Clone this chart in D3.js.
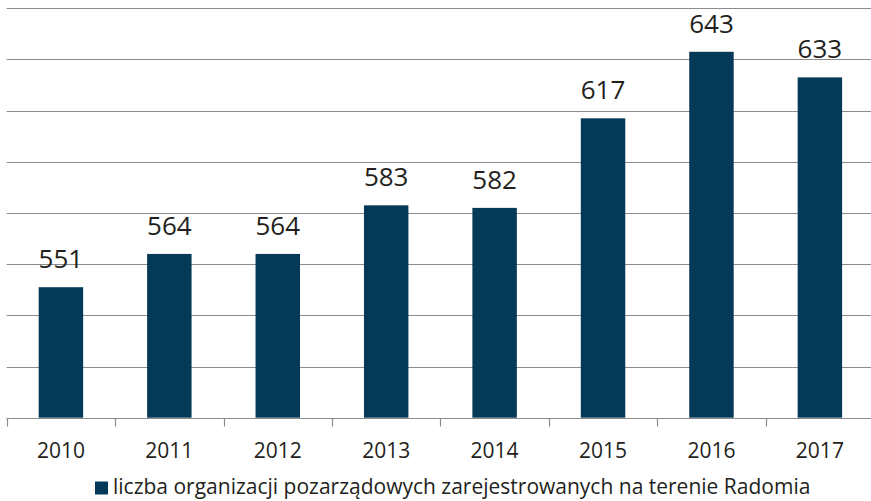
<!DOCTYPE html>
<html>
<head>
<meta charset="utf-8">
<script src="https://cdn.jsdelivr.net/npm/d3@7"></script>
<style>
  body { margin: 0; background: #fff; }
  text { font-family: "Open Sans", sans-serif; fill: #231f20; }
</style>
</head>
<body>
<div id="chart"></div>
<script>
// data
var years = ["2010", "2011", "2012", "2013", "2014", "2015", "2016", "2017"];
var counts = [551, 564, 564, 583, 582, 617, 643, 633];
var gridValues = [500, 520, 540, 560, 580, 600, 620, 640, 660];
var legendLabel = "liczba organizacji pozarządowych zarejestrowanych na terenie Radomia";

var svgWidth = 871;
var svgHeight = 501;

var svg = d3.select("#chart")
  .append("svg")
  .attr("width", svgWidth)
  .attr("height", svgHeight);

// scales
var x = d3.scaleBand()
  .domain(years)
  .range([6.7, 874.1])
  .paddingInner(0.59)
  .paddingOuter(0.295);

var xTicks = d3.scaleBand()
  .domain(years)
  .range([6.7, 874.1]);

var y = d3.scaleLinear()
  .domain([500, 660])
  .range([417.7, 8.3]);

// gridlines
svg.append("g")
  .selectAll("line")
  .data(gridValues)
  .enter()
  .append("line")
  .attr("x1", 6.7)
  .attr("x2", svgWidth)
  .attr("y1", d => Math.round(y(d)) + 0.5)
  .attr("y2", d => Math.round(y(d)) + 0.5)
  .attr("stroke", "#8c8c8c")
  .attr("stroke-width", 1.2);

// bars
svg.append("g")
  .selectAll("rect")
  .data(counts)
  .enter()
  .append("rect")
  .attr("x", (d, i) => x(years[i]))
  .attr("width", x.bandwidth())
  .attr("y", d => y(d))
  .attr("height", d => y(500) - y(d))
  .attr("fill", "#043a57");

// value labels
svg.append("g")
  .selectAll("text")
  .data(counts)
  .enter()
  .append("text")
  .attr("x", (d, i) => x(years[i]) + x.bandwidth() / 2)
  .attr("y", d => y(d) - 19)
  .attr("text-anchor", "middle")
  .style("font-size", "26px")
  .text(d => d);

// x axis
var axisG = svg.append("g")
  .attr("transform", `translate(0, ${Math.round(y(500)) + 0.5})`);

axisG.append("line")
  .attr("x1", 6.7)
  .attr("x2", svgWidth)
  .attr("stroke", "#8c8c8c")
  .attr("stroke-width", 1.2);

var tickPos = years.map(d => xTicks(d)).concat([xTicks.range()[1]]);
axisG.selectAll("line.tick")
  .data(tickPos)
  .enter()
  .append("line")
  .attr("class", "tick")
  .attr("x1", d => Math.round(d) + 0.5)
  .attr("x2", d => Math.round(d) + 0.5)
  .attr("y1", 0)
  .attr("y2", 8)
  .attr("stroke", "#8c8c8c")
  .attr("stroke-width", 1.2);

axisG.selectAll("text")
  .data(years)
  .enter()
  .append("text")
  .attr("x", d => xTicks(d) + xTicks.bandwidth() / 2)
  .attr("y", 39.5)
  .attr("text-anchor", "middle")
  .style("font-size", "21px")
  .text(d => d);

// legend
var legend = svg.append("g");
legend.append("rect")
  .attr("x", 95)
  .attr("y", 481.5)
  .attr("width", 13)
  .attr("height", 13)
  .attr("fill", "#043a57");
legend.append("text")
  .attr("x", 113)
  .attr("y", 494)
  .style("font-size", "21px")
  .text(legendLabel);
</script>
</body>
</html>
